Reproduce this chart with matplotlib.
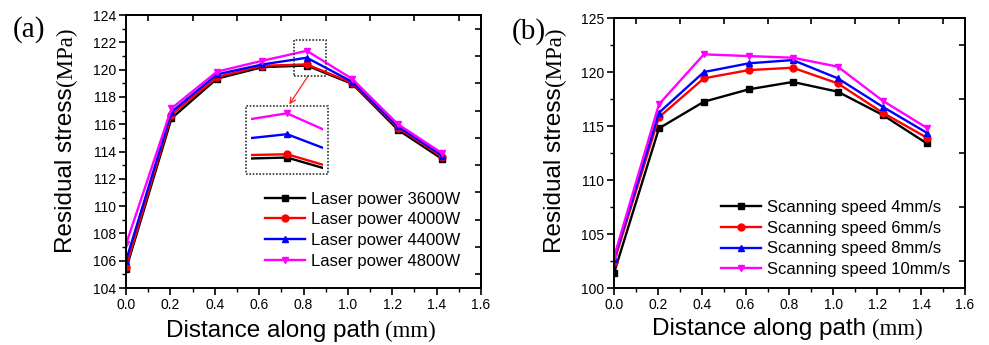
import numpy as np
import matplotlib.pyplot as plt
from matplotlib.patches import Rectangle
from matplotlib.ticker import MultipleLocator

plt.rcParams['font.family'] = ['Liberation Sans', 'DejaVu Sans']

# distance along path (mm)
x_dist = [0.0, 0.205, 0.41, 0.615, 0.815, 1.02, 1.225, 1.425]

# (a) laser power series (MPa)
power_labels = ["Laser power 3600W", "Laser power 4000W", "Laser power 4400W", "Laser power 4800W"]
p3600 = [105.37, 116.43, 119.34, 120.18, 120.30, 118.95, 115.60, 113.45]
p4000 = [105.56, 116.70, 119.45, 120.28, 120.38, 119.02, 115.75, 113.60]
p4400 = [106.00, 116.90, 119.65, 120.38, 120.87, 119.10, 115.85, 113.70]
p4800 = [107.20, 117.16, 119.85, 120.65, 121.38, 119.31, 116.00, 113.87]

# (b) scanning speed series (MPa)
speed_labels = ["Scanning speed 4mm/s", "Scanning speed 6mm/s", "Scanning speed 8mm/s", "Scanning speed 10mm/s"]
s4 = [101.37, 114.80, 117.27, 118.42, 119.10, 118.20, 116.04, 113.42]
s6 = [102.40, 115.83, 119.44, 120.20, 120.42, 118.97, 116.25, 113.95]
s8 = [102.67, 116.25, 120.02, 120.83, 121.13, 119.44, 116.80, 114.40]
s10 = [102.85, 117.03, 121.66, 121.50, 121.35, 120.52, 117.36, 114.86]

colors = ['black', '#ff0000', '#0000ff', '#ff00ff']
markers = ['s', 'o', '^', 'v']

fig = plt.figure(figsize=(9.89, 3.45), dpi=100)
ax0 = fig.add_axes([0.1274, 0.1652, 0.359, 0.7913])
ax1 = fig.add_axes([0.6208, 0.1652, 0.3549, 0.7817])


def style_axis(ax, ylim, ymaj, ymin, top_ticks, right_ticks):
    ax.set_xlim(0, 1.6)
    ax.set_ylim(*ylim)
    ax.xaxis.set_major_locator(MultipleLocator(0.2))
    ax.xaxis.set_minor_locator(MultipleLocator(0.1))
    ax.yaxis.set_major_locator(MultipleLocator(ymaj))
    ax.yaxis.set_minor_locator(MultipleLocator(ymin))
    ax.xaxis.set_major_formatter(lambda v, p: f"{v:.1f}")
    ax.tick_params(which='major', direction='out', length=5, width=1.2, labelsize=10, pad=2)
    ax.tick_params(which='minor', direction='out', length=3, width=1.0)
    for s in ax.spines.values():
        s.set_linewidth(1.4)
    # Origin-style ticks on the top and right frame
    sx = ax.secondary_xaxis('top')
    sx.set_xticks(top_ticks, labels=[])
    sx.tick_params(direction='in', length=4, width=1.2)
    sx.spines['top'].set_linewidth(1.4)
    sy = ax.secondary_yaxis('right')
    sy.set_yticks(right_ticks, labels=[])
    sy.tick_params(direction='in', length=4, width=1.2)
    sy.spines['right'].set_linewidth(1.4)


def plot_series(ax, series, labels):
    for ys, c, m, lab in zip(series, colors, markers, labels):
        ax.plot(x_dist, ys, color=c, marker=m, markersize=5, linewidth=1.7, label=lab)


def add_labels(ax, xlab_right, xlab_base, ylab_x, ylab_y):
    t1 = fig.text(xlab_right, xlab_base, "Distance along path", fontsize=17.5,
                  ha='right', va='baseline')
    ax.annotate("(mm)", xy=(1, xlab_base), xycoords=(t1, 'figure fraction'),
                xytext=(4, 0), textcoords='offset points', fontsize=16.5,
                family='Liberation Serif', ha='left', va='baseline')
    t2 = fig.text(ylab_x, ylab_y, "Residual stress", fontsize=17.5, rotation=90,
                  rotation_mode='anchor', ha='left', va='baseline')
    ax.annotate("(MPa)", xy=(ylab_x, 1), xycoords=('figure fraction', t2),
                xytext=(0, 1), textcoords='offset points', fontsize=16.5,
                family='Liberation Serif', rotation=90, rotation_mode='anchor',
                ha='left', va='baseline')


legend_kw = dict(loc='upper left', frameon=False, fontsize=12, handlelength=2.4,
                 handletextpad=0.35, labelspacing=0.34, borderpad=0, borderaxespad=0)

# ---- panel (a)
series_a = [p3600, p4000, p4400, p4800]
plot_series(ax0, series_a, power_labels)
style_axis(ax0, (104, 124), 2, 1,
           np.arange(0.1, 1.6, 0.2), np.arange(105, 124, 2))
ax0.legend(bbox_to_anchor=(0.392, 0.353), **legend_kw)

# zoom box around the peak and its enlarged view
ax0.add_patch(Rectangle((0.758, 119.55), 0.143, 2.62, fill=False, linestyle=(0, (1, 1)),
                        linewidth=1.2, edgecolor='#333333', zorder=5))
ax0.add_patch(Rectangle((0.539, 112.35), 0.373, 4.98, fill=False, linestyle=(0, (1, 1)),
                        linewidth=1.2, edgecolor='#333333', zorder=5))
ax0.annotate("", xy=(0.736, 117.45), xytext=(0.819, 119.5),
             arrowprops=dict(arrowstyle='->', color='#ff2020', lw=0.9, shrinkA=0, shrinkB=0))
axin = ax0.inset_axes([0.562, 112.35, 0.327, 4.98], transform=ax0.transData)
plot_series(axin, series_a, power_labels)
axin.set_xlim(0.776, 0.854)
axin.set_ylim(119.897, 121.557)
axin.set_axis_off()
axin.patch.set_alpha(0)

fig.text(0.013, 0.895, "(a)", fontsize=21, family='Liberation Serif', va='baseline')
add_labels(ax0, 0.384, 0.023, 0.0728, 0.267)

# ---- panel (b)
series_b = [s4, s6, s8, s10]
plot_series(ax1, series_b, speed_labels)
style_axis(ax1, (100, 125), 5, 2.5,
           np.arange(0.1, 1.6, 0.2), np.arange(102.5, 125, 5))
ax1.legend(bbox_to_anchor=(0.305, 0.326), **legend_kw)

fig.text(0.517, 0.888, "(b)", fontsize=21, family='Liberation Serif', va='baseline')
add_labels(ax1, 0.876, 0.029, 0.567, 0.267)

fig.savefig('out.png', dpi=100)
